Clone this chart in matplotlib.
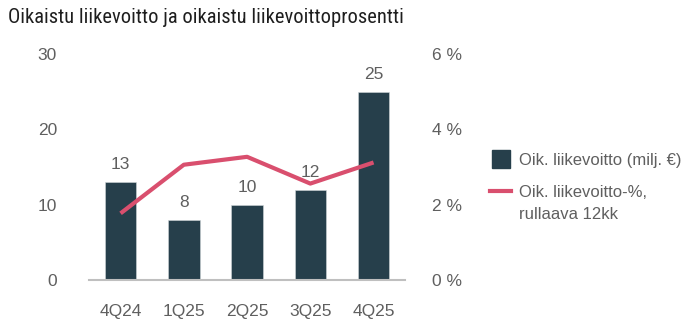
import matplotlib.pyplot as plt
import numpy as np
from matplotlib.patches import Rectangle
from matplotlib.lines import Line2D

quarters = ["4Q24", "1Q25", "2Q25", "3Q25", "4Q25"]
profit = [13, 8, 10, 12, 25]  # milj. €
profit_pct = [1.77, 3.06, 3.27, 2.56, 3.12]  # rolling 12m %
legend_labels = ["Oik. liikevoitto (milj. €)", "Oik. liikevoitto-%,", "rullaava 12kk"]

bar_color = "#263f4b"
line_color = "#d94f6e"
text_color = "#5f5f5f"

plt.rcParams['font.family'] = ['Liberation Sans', 'DejaVu Sans']

W, H = 695, 323
fig = plt.figure(figsize=(W / 100, H / 100), dpi=100)
ax = fig.add_axes([0.128, 0.133, 0.455, 0.70])
ax2 = ax.twinx()

x = np.arange(len(quarters))
ax.bar(x, profit, width=0.5, color=bar_color, edgecolor="#d0d6d9", linewidth=0.4, zorder=2)
for xi, v in zip(x, profit):
    ax.annotate(f"{v}", (xi, v), xytext=(0, 7), textcoords="offset points",
                ha="center", va="bottom", fontsize=12.5, color=text_color)

ax2.plot(x, profit_pct, color=line_color, lw=3, solid_capstyle="butt", zorder=3)

ax.set_xlim(-0.5, 4.5)
ax.set_ylim(0, 30)
ax2.set_ylim(0, 6)
ax.set_yticks([0, 10, 20, 30])
ax2.set_yticks([0, 2, 4, 6])
ax2.set_yticklabels([f"{v} %" for v in [0, 2, 4, 6]])
ax.set_xticks(x)
ax.set_xticklabels(quarters)

for a in (ax, ax2):
    for s in a.spines.values():
        s.set_visible(False)
    a.tick_params(length=0, labelsize=12.5, labelcolor=text_color)
ax.tick_params(axis="y", pad=23)
ax2.tick_params(axis="y", pad=19.5)
ax.tick_params(axis="x", pad=17)
ax.spines["bottom"].set_visible(True)
ax.spines["bottom"].set_color("#bfbfbf")
ax.spines["bottom"].set_linewidth(1.5)

# line axes above bars
ax2.set_zorder(ax.get_zorder() + 1)
ax2.patch.set_visible(False)

# legend drawn by hand so the line sits on the first text row
def fx(px):
    return px / W

def fy(py):
    return 1 - py / H

fig.add_artist(Rectangle((fx(492), fy(168)), fx(18), 18 / H, color=bar_color,
                         transform=fig.transFigure))
fig.add_artist(Line2D([fx(490), fx(511)], [fy(191), fy(191)], color=line_color,
                      lw=3, transform=fig.transFigure))
for lab, py in zip(legend_labels, [159, 191, 213]):
    fig.text(fx(519), fy(py), lab, fontsize=12, color=text_color,
             ha="left", va="center_baseline")

fig.text(0.012, 0.945, "Oikaistu liikevoitto ja oikaistu liikevoittoprosentti",
         fontsize=14.8, color="#1e1e1e", va="center", ha="left",
         family=["Roboto Condensed", "Roboto", "Liberation Sans"])

fig.savefig("out.png", dpi=100)
